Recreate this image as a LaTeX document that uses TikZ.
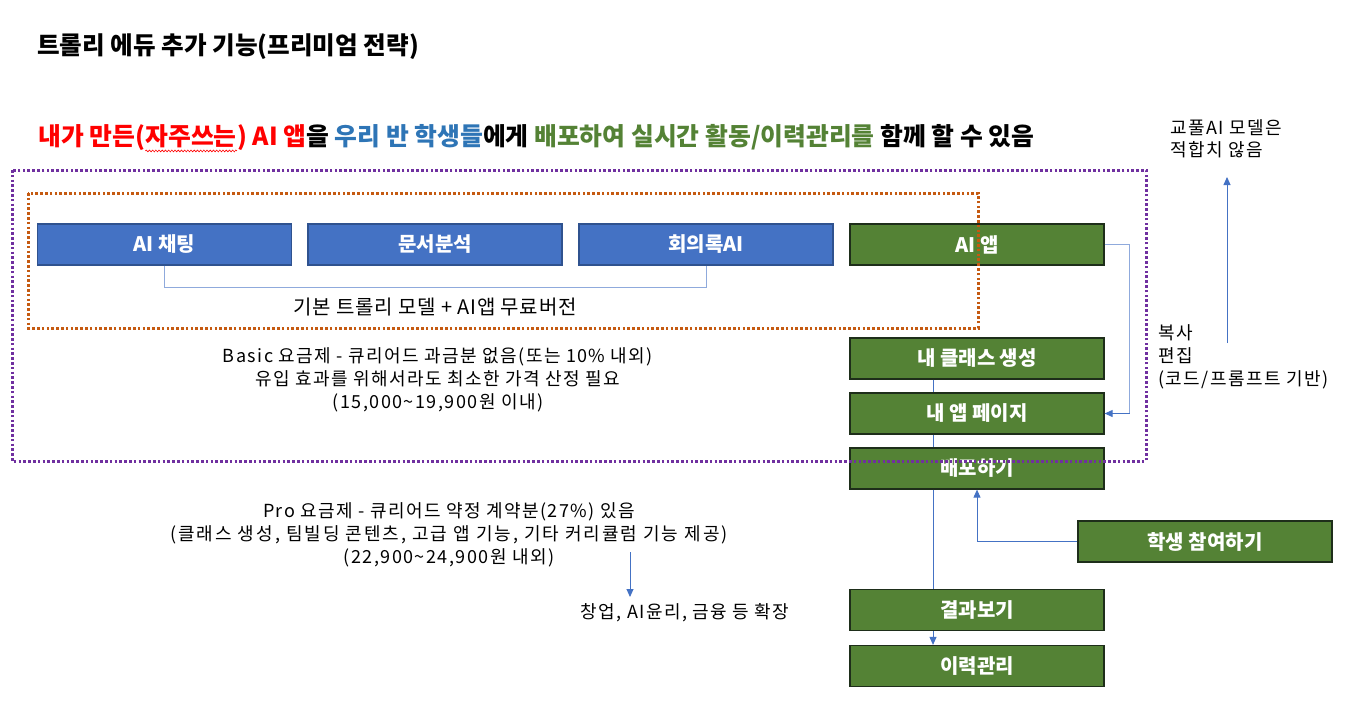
\documentclass[tikz,border=0pt]{standalone}
\usepackage{fontspec}
\setmainfont{Noto Sans CJK KR}
\newfontfamily\bodyfont[LetterSpace=8]{Noto Sans CJK KR}
\newfontfamily\widefont[LetterSpace=11]{Noto Sans CJK KR}
\newfontfamily\labelfont[LetterSpace=4]{Noto Sans CJK KR}
\usetikzlibrary{arrows.meta,decorations.pathmorphing}
\definecolor{bluefill}{HTML}{4472C4}
\definecolor{blueline}{HTML}{2F528F}
\definecolor{greenfill}{HTML}{548235}
\definecolor{greenline}{HTML}{1E2E1A}
\definecolor{conn}{HTML}{4472C4}
\definecolor{connlight}{HTML}{8FAADC}
\definecolor{purpledot}{HTML}{7030A0}
\definecolor{orangedot}{HTML}{C55A11}
\definecolor{hred}{HTML}{FF0000}
\definecolor{hblue}{HTML}{2E75B6}
\definecolor{hgreen}{HTML}{548235}
\begin{document}
\begin{tikzpicture}[x=1pt,y=-1pt,
  boxbase/.style={rectangle, minimum width=254pt, minimum height=41pt, inner sep=0pt, line width=1.2pt, text=white, font=\fontsize{20}{24}\selectfont\bfseries},
  bluebox/.style={boxbase, draw=blueline, fill=bluefill},
  greenbox/.style={boxbase, draw=greenline, fill=greenfill},
  conline/.style={draw=conn, line width=0.9pt},
  arrowline/.style={conline, -{Triangle[length=8pt,width=7pt]}},
  plain/.style={font=\bodyfont\fontsize{18}{23}\selectfont, inner sep=0pt, align=center},
  headfont/.style={inner sep=0pt, font=\fontsize{24.8}{29}\selectfont\bfseries},
  dotbox/.style={line width=3pt, dash pattern=on 2.6pt off 2.2pt}
]
\useasboundingbox (0,0) rectangle (1346,717);

% title and headline
\node[anchor=west, inner sep=0pt, font=\fontsize{24.6}{28}\selectfont\bfseries] (title) at (37,47) {트롤리 에듀 추가 기능(프리미엄 전략)};
\node[anchor=west, headfont, text=hred] (h1) at (38,138) {내가 만든(};
\node[anchor=base west, headfont, text=hred] (h2) at (h1.base east) {자주쓰는};
\node[anchor=base west, headfont] (h3) at (h2.base east)
  {\textcolor{hred}{) AI 앱}을 \textcolor{hblue}{우리 반 학생들}에게 \textcolor{hgreen}{배포하여 실시간 활동/이력관리를} 함께 할 수 있음};
\draw[hred, line width=0.6pt, decorate, decoration={snake, amplitude=0.9pt, segment length=3.2pt}]
  ([yshift=-5pt]h2.base west) -- ([yshift=-5pt]h2.base east);

% boxes
\node[bluebox] (chat) at (164.5,244.5) {AI 채팅};
\node[bluebox] (doc) at (435,244.5) {문서분석};
\node[bluebox] (minutes) at (706,244.5) {회의록AI};
\node[greenbox] (app) at (977,244.5) {AI 앱};
\node[greenbox] (cls) at (977,358.5) {내 클래스 생성};
\node[greenbox] (page) at (977,413.5) {내 앱 페이지};
\node[greenbox] (deploy) at (977,468.5) {배포하기};
\node[greenbox] (result) at (977,610) {결과보기};
\node[greenbox] (hist) at (977,666) {이력관리};
\node[greenbox] (stu) at (1205,541.5) {학생 참여하기};

% connectors
\draw[draw=connlight, line width=0.9pt] (chat.south) -- ++(0,22) -| (minutes.south);
\draw[draw=connlight, line width=0.9pt] (app.east) -- ([xshift=25pt]app.east) |- ([xshift=6pt]page.east);
\draw[arrowline] ([xshift=25pt]app.east |- page.east) -- (page.east);
\draw[conline] ([xshift=-44pt]cls.south) -- ([xshift=-44pt]page.north);
\draw[conline] ([xshift=-44pt]page.south) -- ([xshift=-44pt]deploy.north);
\draw[conline] ([xshift=-44pt]deploy.south) -- ([xshift=-44pt]result.north);
\draw[arrowline] ([xshift=-44pt]result.south) -- ([xshift=-44pt]hist.north);
\draw[arrowline] (stu.west) -| (deploy.south);

\coordinate (upA) at (1227,343);
\coordinate (upB) at (1227,177);
\draw[arrowline] (upA) -- (upB);
\coordinate (proA) at (630,552);
\coordinate (proB) at (630,597);
\draw[arrowline] (proA) -- (proB);

% texts
\node[plain, font=\labelfont\fontsize{20}{24}\selectfont] (base) at (435,307) {기본 트롤리 모델 + AI앱 무료버전};
\node[plain] (basic) at (438,380) {Basic 요금제 - 큐리어드 과금분 없음(또는 10\% 내외)\\유입 효과를 위해서라도 최소한 가격 산정 필요\\(15,000\textasciitilde19,900원 이내)};
\node[plain] (pro) at (449,535) {Pro 요금제 - 큐리어드 약정 계약분(27\%) 있음\\{\widefont(클래스 생성, 팀빌딩 콘텐츠, 고급 앱 기능, 기타 커리큘럼 기능 제공)}\\(22,900\textasciitilde24,900원 내외)};
\node[plain] (ext) at (685,613) {창업, AI윤리, 금융 등 확장};
\node[plain, align=left, anchor=west] (copy) at (1158,357) {복사\\편집\\(코드/프롬프트 기반)};
\node[plain, align=left, anchor=west, font=\bodyfont\fontsize{18}{22}\selectfont] (note) at (1170,139) {교풀AI 모델은\\적합치 않음};

% dotted frames
\draw[dotbox, draw=orangedot] (28,193) rectangle (978,328);
\draw[dotbox, draw=purpledot] (12,170) rectangle (1146,461);
\end{tikzpicture}
\end{document}
